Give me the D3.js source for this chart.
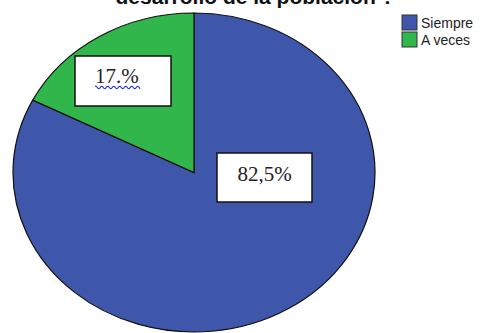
<!DOCTYPE html>
<html>
<head>
<meta charset="utf-8">
<script src="https://cdn.jsdelivr.net/npm/d3@7"></script>
<style>
  body { margin: 0; background: #fff; }
  svg { display: block; }
</style>
</head>
<body>
<div id="main"></div>
<script>
// pie: how often? (Siempre / A veces)
var categories = ["Siempre", "A veces"];
var values = [82.5, 17.5];
var labels = ["82,5%", "17.%"];
var colors = ["#3f57aa", "#30b64a"];
var title = "desarrollo de la población ?";

var width = 485, height = 333;
var cx = 194, cy = 172.5, rx = 181, ry = 159.5;

var svg = d3.select("#main")
  .append("svg")
  .attr("width", width)
  .attr("height", height);

// title (only last line is visible)
svg.append("text")
  .attr("x", 255)
  .attr("y", 4)
  .attr("text-anchor", "middle")
  .attr("font-family", "Liberation Sans, Arial, sans-serif")
  .attr("font-weight", "bold")
  .attr("font-size", 21)
  .attr("fill", "#111")
  .text(title);

var pie = d3.pie().sort(null).value(d => d);
var arcs = pie(values);
var arc = d3.arc().innerRadius(0).outerRadius(1);

// draw a unit circle pie, stretched into an ellipse
var g = svg.append("g")
  .attr("transform", "translate(" + cx + "," + cy + ") scale(" + rx + "," + ry + ")");

g.selectAll("path")
  .data(arcs)
  .join("path")
  .attr("d", arc)
  .attr("fill", (d, i) => colors[i])
  .attr("stroke", "#111")
  .attr("stroke-width", 1.2)
  .attr("vector-effect", "non-scaling-stroke");

// label boxes
var boxes = [
  {x: 217, y: 153, w: 95, h: 49, tx: 264.5, ty: 181, anchor: "middle"},
  {x: 75, y: 56, w: 96, h: 50, tx: 95, ty: 83, anchor: "start"}
];
var lab = svg.append("g")
  .attr("font-family", "Liberation Serif, Times New Roman, serif")
  .attr("font-size", 21);
boxes.forEach(function(b, i) {
  lab.append("rect")
    .attr("x", b.x).attr("y", b.y)
    .attr("width", b.w).attr("height", b.h)
    .attr("fill", "#fff")
    .attr("stroke", "#111")
    .attr("stroke-width", 1.5);
  lab.append("text")
    .attr("x", b.tx)
    .attr("y", b.ty)
    .attr("text-anchor", b.anchor)
    .attr("fill", "#222")
    .text(labels[i]);
});
// squiggly spell-check underline under 17.%
var wave = [];
for (var x = 95; x <= 140; x += 1.5) wave.push([x, 87.5 + (Math.floor((x - 95) / 3) % 2 ? 1.3 : -1.3)]);
svg.append("path")
  .attr("d", d3.line().curve(d3.curveBasis)(wave))
  .attr("fill", "none")
  .attr("stroke", "#2030e0")
  .attr("stroke-width", 1.2);

// legend
var legend = svg.append("g")
  .attr("font-family", "Liberation Sans, Arial, sans-serif")
  .attr("font-size", 14)
  .selectAll("g")
  .data(categories)
  .join("g")
  .attr("transform", (d, i) => "translate(402," + (15 + i * 17) + ")");
legend.append("rect")
  .attr("width", 15).attr("height", 15)
  .attr("fill", (d, i) => colors[i])
  .attr("stroke", "#333")
  .attr("stroke-width", 1);
legend.append("text")
  .attr("x", 19)
  .attr("y", 13)
  .attr("fill", "#222")
  .text(d => d);
</script>
</body>
</html>
